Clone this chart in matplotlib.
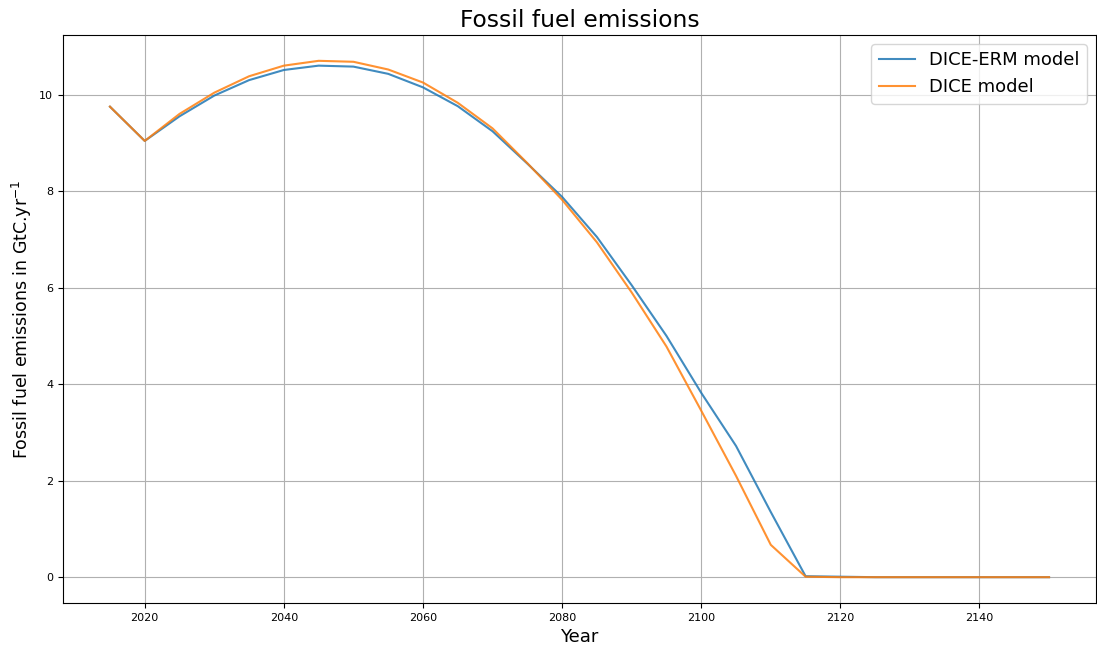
import numpy as np
import matplotlib
matplotlib.use("Agg")
import matplotlib.pyplot as plt

years = list(range(2015, 2155, 5))

dice_erm = [9.75, 9.04, 9.55, 9.98, 10.30, 10.51, 10.60, 10.58, 10.43, 10.15,
            9.76, 9.24, 8.57, 7.88, 7.05, 6.05, 5.00, 3.82, 2.72, 1.35, 0.02,
            0.01, 0.0, 0.0, 0.0, 0.0, 0.0, 0.0]
dice = [9.75, 9.04, 9.60, 10.04, 10.38, 10.60, 10.70, 10.68, 10.52, 10.25,
        9.83, 9.30, 8.58, 7.82, 6.94, 5.90, 4.78, 3.45, 2.10, 0.67, 0.01,
        0.0, 0.0, 0.0, 0.0, 0.0, 0.0, 0.0]


def draw_emissions():
    fig = plt.figure(figsize=(10.97, 6.46), dpi=100)
    ax = fig.add_axes([63 / 1097, 1 - 603 / 646, (1096 - 63) / 1097, (603 - 35) / 646])
    ax.plot(years, dice_erm, label="DICE-ERM model", alpha=0.85)
    ax.plot(years, dice, label="DICE model", alpha=0.85)
    ax.grid(True)
    ax.set_title("Fossil fuel emissions", fontsize=16.8)
    ax.set_xlabel("Year", fontsize=13)
    ax.set_ylabel(r"Fossil fuel emissions in GtC.yr$^{-1}$", fontsize=12.5)
    ax.tick_params(labelsize=8)
    ax.legend(fontsize=13)
    fig.savefig("out.png")


if __name__ == '__main__':
    draw_emissions()
